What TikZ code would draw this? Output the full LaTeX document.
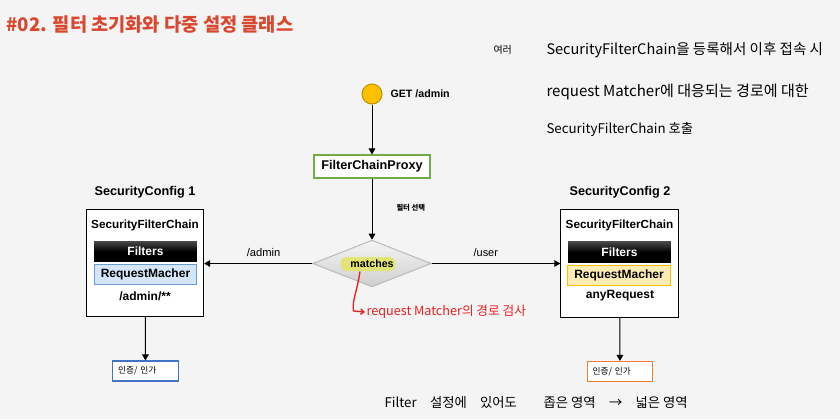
\documentclass[tikz,border=0pt]{standalone}
\usepackage{fontspec}
\setmainfont{Liberation Sans}
\newfontfamily\kr{Noto Sans CJK KR}
\usetikzlibrary{shapes.geometric,arrows.meta}

\definecolor{bgGray}{RGB}{244,244,244}
\definecolor{titleRed}{RGB}{217,72,46}
\definecolor{circFill}{RGB}{255,192,0}
\definecolor{circLine}{RGB}{191,144,0}
\definecolor{proxyGreen}{RGB}{112,173,71}
\definecolor{reqBlueFill}{RGB}{214,230,250}
\definecolor{reqBlueLine}{RGB}{108,155,210}
\definecolor{reqYellowFill}{RGB}{255,236,180}
\definecolor{reqYellowLine}{RGB}{255,192,0}
\definecolor{authBlue}{RGB}{68,114,196}
\definecolor{authOrange}{RGB}{237,125,49}
\definecolor{noteRed}{RGB}{232,32,32}
\definecolor{hlYellow}{RGB}{226,230,90}

\tikzset{every picture/.style={line width=0.75pt}}
\tikzset{
  flow/.style={-{Triangle[length=4.5pt,width=5pt]}},
  chainbox/.style={draw=black, fill=white, minimum width=88pt, minimum height=80.5pt, inner sep=0pt},
  filterbar/.style={top color=black!72, bottom color=black, middle color=black, minimum width=77pt, minimum height=15.5pt, inner sep=0pt, text=white, font=\bfseries\fontsize{9}{10}\selectfont},
  reqbox/.style={draw, minimum width=77pt, minimum height=15.5pt, inner sep=0pt, font=\bfseries\fontsize{9}{10}\selectfont},
  authbox/.style={draw, fill=white, line width=0.9pt, text width=41pt, align=left, inner xsep=4pt, minimum height=15pt, font=\kr\fontsize{6.5}{7}\selectfont},
  boldtxt/.style={inner sep=0.75pt, font=\bfseries\fontsize{9}{10}\selectfont},
  hand/.style={anchor=west, inner sep=0.75pt, font=\kr\fontsize{10}{12}\selectfont}
}

\begin{document}
\begin{tikzpicture}[x=0.75pt,y=0.75pt,yscale=-1,xscale=1]
%background, sets the page at 840 x 419
\fill [bgGray] (0,0) rectangle (840,419) ;
\useasboundingbox (0,0) rectangle (840,419) ;

% Text Node
\node [anchor=west, inner sep=0.75pt, text=titleRed, font=\kr\bfseries\fontsize{14}{15}\selectfont] (title) at (5,25) {\#02. 필터 초기화와 다중 설정 클래스};

%Shape: Circle
\node [circle, draw=circLine, fill=circFill, minimum size=15pt, inner sep=0pt] (req) at (372,94) {};
% Text Node
\node [anchor=west, inner sep=0.75pt, font=\bfseries\fontsize{8}{9}\selectfont] (get) at (389,94) {GET /admin};

%Shape: Rectangle
\node [draw=proxyGreen, line width=1.1pt, fill=white, minimum width=87pt, minimum height=17pt, inner sep=0pt, font=\bfseries\fontsize{9.5}{10}\selectfont] (proxy) at (372,166.5) {FilterChainProxy};

%Shape: Diamond
\node [diamond, draw=gray!55, top color=gray!8, bottom color=gray!38, minimum width=89pt, minimum height=35pt, inner sep=0pt] (match) at (372,263.5) {};
%highlighted label
\node [fill=hlYellow, fill opacity=0.8, text opacity=1, rounded corners=4pt, minimum width=41pt, minimum height=10.5pt, inner sep=0pt, font=\bfseries\fontsize{8}{9}\selectfont] (hl) at (368,264) {\hspace{6pt}matches};

% Text Node
\node [anchor=west, inner sep=0.75pt, font=\kr\bfseries\fontsize{5.5}{6}\selectfont] (pick) at (395,208) {필터 선택};

%Left config
\node [boldtxt, font=\bfseries\fontsize{9.5}{10}\selectfont] (cfg1) at (145,192) {SecurityConfig 1};
\node [chainbox] (chain1) at (145,263) {};
\node [boldtxt, font=\bfseries\fontsize{8.8}{10}\selectfont] (sfc1) at (145,225) {SecurityFilterChain};
\node [filterbar] (flt1) at (145.5,251.5) {Filters};
\node [reqbox, draw=reqBlueLine, fill=reqBlueFill] (rm1) at (145.5,274.5) {RequestMacher};
\node [boldtxt] (path1) at (145,296) {/admin/**};

%Right config
\node [boldtxt, font=\bfseries\fontsize{9.5}{10}\selectfont] (cfg2) at (620,192) {SecurityConfig 2};
\node [chainbox] (chain2) at (619.5,263.5) {};
\node [boldtxt, font=\bfseries\fontsize{8.8}{10}\selectfont] (sfc2) at (619.5,225) {SecurityFilterChain};
\node [filterbar] (flt2) at (619.5,252) {Filters};
\node [reqbox, draw=reqYellowLine, fill=reqYellowFill] (rm2) at (619,275.5) {RequestMacher};
\node [boldtxt] (path2) at (620,296) {anyRequest};

%Shape: Rectangle
\node [authbox, draw=authBlue] (auth1) at (145.5,371) {인증/ 인가};
\node [authbox, draw=authOrange] (auth2) at (620,371.5) {인증/ 인가};

%Straight Lines
\draw [flow] (req) -- (proxy) ;
\draw [flow] (proxy) -- (match) ;
\draw [flow] (match.west) -- (match.west -| chain1.east) node [pos=0.45, above=4pt, inner sep=0.75pt, font=\fontsize{8.4}{9}\selectfont] {/admin} ;
\draw [flow] (match.east) -- (match.east -| chain2.west) node [pos=0.42, above=4pt, inner sep=0.75pt, font=\fontsize{8.2}{9}\selectfont] {/user} ;
\draw [flow] (chain1) -- (auth1) ;
\draw [flow] (chain2) -- (auth2) ;

%red note
\node [hand, text=noteRed, font=\kr\fontsize{9.5}{11}\selectfont] (note) at (365,312) {request Matcher의 경로 검사};
\draw [noteRed, line width=1pt, -{Straight Barb[length=2.5pt,width=4pt]}] ([xshift=-6pt]hl.south) .. controls (357,292) and (352,300) .. (353.5,311) -- (note.west) ;

%handwritten notes
\node [hand, font=\kr\fontsize{7.5}{9}\selectfont] (many) at (492,50) {여러};
\node [hand, font=\kr\fontsize{10.9}{12}\selectfont] (line1) at (545,50) {SecurityFilterChain을 등록해서 이후 접속 시};
\node [hand, font=\kr\fontsize{11.3}{12}\selectfont] (line2) at (545,92) {request Matcher에 대응되는 경로에 대한};
\node [hand] (line3) at (545,130) {SecurityFilterChain 호출};
\node [hand] (bottom) at (383,403) {Filter\quad 설정에\quad 있어도\qquad 좁은 영역\quad →\quad 넓은 영역};

\end{tikzpicture}
\end{document}
